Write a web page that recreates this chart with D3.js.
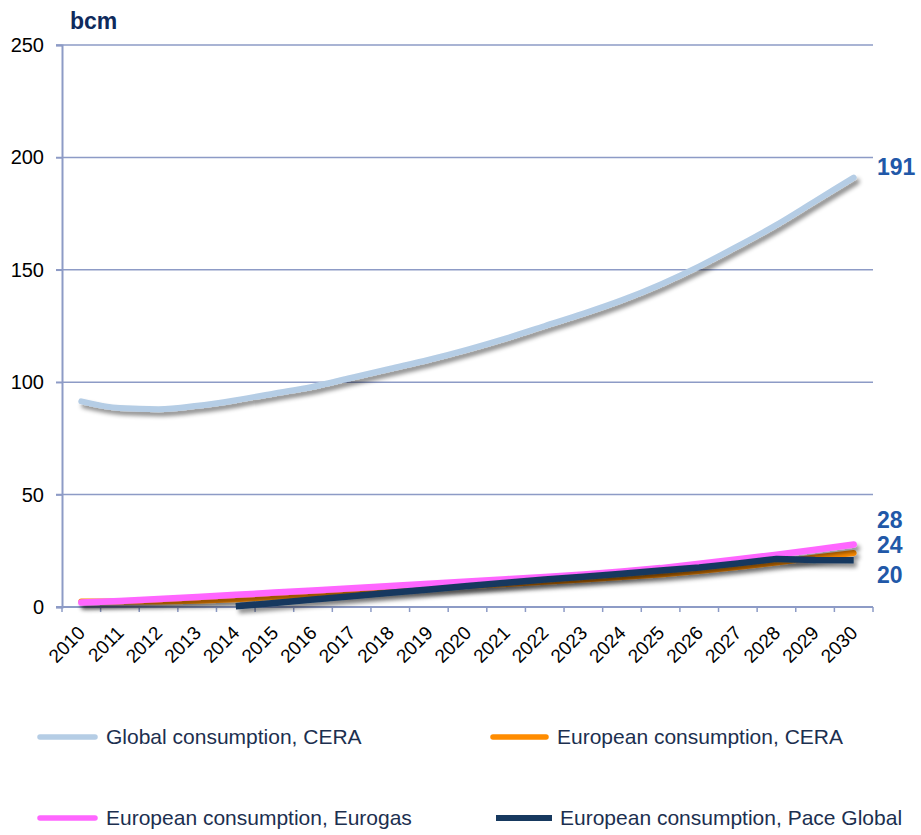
<!DOCTYPE html>
<html>
<head>
<meta charset="utf-8">
<script src="https://cdn.jsdelivr.net/npm/d3@7"></script>
<style>
  html, body { margin: 0; padding: 0; background: #fff; }
  svg { display: block; font-family: "Liberation Sans", Arial, sans-serif; }
</style>
</head>
<body>
<svg id="chart" width="921" height="835"></svg>
<script>
const years = ["2010","2011","2012","2013","2014","2015","2016","2017","2018","2019","2020",
               "2021","2022","2023","2024","2025","2026","2027","2028","2029","2030"];
const yTicks = [0, 50, 100, 150, 200, 250];

const globalCERA   = [91.5, 88.5, 88, 89.5, 92, 95, 98, 102, 106, 110, 114.5, 119.5, 125, 130.5, 136.5, 143.5, 151.5, 160.5, 170, 180.5, 191];
const europeCERA   = [2.5, 2.5, 2.5, 2.8, 3.5, 4.5, 5.5, 6.5, 7.5, 8.5, 9.3, 10.2, 11.2, 12.2, 13.3, 14.5, 16, 17.8, 19.8, 22, 24];
const europeEurogas= [2, 2.7, 3.6, 4.5, 5.4, 6.4, 7.3, 8.3, 9.3, 10.3, 11.4, 12.4, 13.4, 14.5, 15.8, 17.3, 19.2, 21.2, 23.3, 25.5, 27.8];
const europePace   = [null, null, null, null, 0.3, 1.8, 3.3, 4.8, 6.3, 7.8, 9.3, 10.8, 12.2, 13.5, 14.8, 16.2, 17.6, 19.4, 21.4, 20.9, 20.8];

const endLabels = [
  {text: "191", value: 191},
  {text: "28", value: 28},
  {text: "24", value: 24},
  {text: "20", value: 20}
];

const series = [
  {name: "Global consumption, CERA", values: globalCERA, color: "#b5cde5", width: 6, smooth: true},
  {name: "European consumption, CERA", values: europeCERA, color: "#ff8c00", width: 6, smooth: false},
  {name: "European consumption, Eurogas", values: europeEurogas, color: "#ff66ff", width: 6.5, smooth: false},
  {name: "European consumption,  Pace Global", values: europePace, color: "#17395f", width: 6.5, smooth: false}
];

const svg = d3.select("#chart");
const mLeft = 62, mRight = 873, mTop = 45, mBottom = 607;

const x = d3.scaleBand().domain(years).range([mLeft, mRight]).padding(0);
const y = d3.scaleLinear().domain([0, 250]).range([mBottom, mTop]);
const cx = d => x(d) + x.bandwidth() / 2;

const defs = svg.append("defs");
const f = defs.append("filter").attr("id", "shadow").attr("x", "-10%").attr("y", "-50%").attr("width", "130%").attr("height", "300%");
f.append("feDropShadow").attr("dx", 3).attr("dy", 4).attr("stdDeviation", 2.2)
  .attr("flood-color", "#000").attr("flood-opacity", 0.45);

const gridColor = "#8d9bc6";

// gridlines
svg.append("g").selectAll("line").data(yTicks.filter(t => t > 0)).join("line")
  .attr("x1", mLeft - 6).attr("x2", mRight)
  .attr("y1", d => y(d)).attr("y2", d => y(d))
  .attr("stroke", gridColor).attr("stroke-width", 1.5);

// y axis
const yAxis = svg.append("g").attr("transform", `translate(${mLeft},0)`)
  .call(d3.axisLeft(y).tickValues(yTicks).tickSize(6).tickPadding(12));
yAxis.select(".domain").attr("stroke", gridColor).attr("stroke-width", 2);
yAxis.selectAll(".tick line").attr("stroke", gridColor).attr("stroke-width", 1.5);
yAxis.selectAll(".tick text").attr("font-size", 20).attr("fill", "#000")
  .attr("font-family", "Liberation Sans, Arial, sans-serif");

// x axis line with ticks at band boundaries
const xAxisG = svg.append("g");
xAxisG.append("line").attr("x1", mLeft - 6).attr("x2", mRight).attr("y1", mBottom).attr("y2", mBottom)
  .attr("stroke", gridColor).attr("stroke-width", 2);
const boundaries = years.map(d => x(d)).concat([x(years[years.length - 1]) + x.bandwidth()]);
xAxisG.selectAll("line.tk").data(boundaries).join("line").attr("class", "tk")
  .attr("x1", d => d).attr("x2", d => d).attr("y1", mBottom).attr("y2", mBottom + 5)
  .attr("stroke", gridColor).attr("stroke-width", 1.5);
xAxisG.selectAll("text").data(years).join("text")
  .attr("transform", d => `translate(${cx(d) + 5},${mBottom + 27}) rotate(-45)`)
  .attr("text-anchor", "end")
  .attr("font-size", 19).attr("fill", "#000").text(d => d);

// "bcm"
svg.append("text").attr("x", 70).attr("y", 29).attr("font-size", 23).attr("font-weight", "bold")
  .attr("fill", "#0f2a5c").text("bcm");

// lines
series.forEach((s, i) => {
  const pts = years.map((yr, j) => ({yr, v: s.values[j]}));
  const line = d3.line().defined(d => d.v != null)
    .x(d => cx(d.yr)).y(d => y(d.v))
    .curve(s.smooth ? d3.curveMonotoneX : d3.curveLinear);
  svg.append("path").datum(pts)
    .attr("d", line).attr("fill", "none")
    .attr("stroke", s.color).attr("stroke-width", s.width)
    .attr("stroke-linecap", i === 3 ? "butt" : "round")
    .attr("stroke-linejoin", "round")
    .attr("filter", "url(#shadow)");
});

// end labels
const labelY = {"191": 167, "28": 520, "24": 545, "20": 575};
svg.append("g").selectAll("text").data(endLabels).join("text")
  .attr("x", 877).attr("y", d => labelY[d.text] != null ? labelY[d.text] : y(d.value))
  .attr("dy", "0.35em").attr("font-size", 23).attr("font-weight", "bold")
  .attr("fill", "#2158a8").text(d => d.text);

// legend
const legendPos = [
  {lx: 40, ly: 737, tx: 106},
  {lx: 493, ly: 737, tx: 557},
  {lx: 40, ly: 818, tx: 106},
  {lx: 496, ly: 818, tx: 560}
];
const legendLen = [55, 53, 55, 56];
series.forEach((s, i) => {
  const p = legendPos[i];
  svg.append("line").attr("x1", p.lx).attr("x2", p.lx + legendLen[i])
    .attr("y1", p.ly).attr("y2", p.ly)
    .attr("stroke", s.color).attr("stroke-width", i === 3 ? 6 : 5.5)
    .attr("stroke-linecap", i === 3 ? "butt" : "round");
  svg.append("text").attr("x", p.tx).attr("y", p.ly).attr("dy", "0.35em")
    .attr("font-size", 21).attr("fill", "#1c2f4f").text(s.name);
});
</script>
</body>
</html>
